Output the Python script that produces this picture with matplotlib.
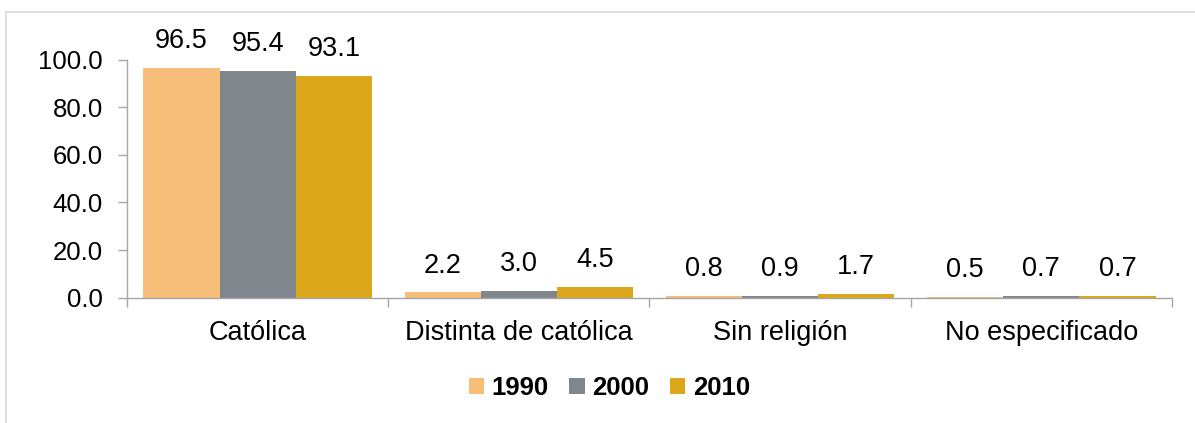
import numpy as np
import matplotlib
matplotlib.use("Agg")
import matplotlib.pyplot as plt
from matplotlib.lines import Line2D
from matplotlib.ticker import FixedLocator

plt.rcParams['font.family'] = ['Liberation Sans', 'DejaVu Sans']

categories = ["Católica", "Distinta de católica", "Sin religión", "No especificado"]
years = ["1990", "2000", "2010"]
v1990 = [96.5, 2.2, 0.8, 0.5]
v2000 = [95.4, 3.0, 0.9, 0.7]
v2010 = [93.1, 4.5, 1.7, 0.7]
colors = ["#F6BE78", "#7F868C", "#DAA81A"]

fig = plt.figure(figsize=(11.95, 4.23), dpi=100)
ax = fig.add_axes([0.1063, 0.2962, 0.8744, 0.5628])

x = np.arange(len(categories))
w = 0.875 / 3
for i, (vals, lab, c) in enumerate(zip([v1990, v2000, v2010], years, colors)):
    bars = ax.bar(x + (i - 1) * w, vals, width=w, color=c, label=lab)
    for b, v in zip(bars, vals):
        ax.annotate(f"{v:.1f}", (b.get_x() + b.get_width() / 2, v),
                    xytext=(0, 10), textcoords="offset points",
                    ha="center", va="bottom", fontsize=19.5)

ax.set_xlim(-0.5, 3.5)
ax.set_ylim(0, 100)
ax.set_yticks(np.arange(0, 101, 20))
ax.set_yticklabels([f"{t:.1f}" for t in np.arange(0, 101, 20)], fontsize=18.5)
ax.set_xticks(x)
ax.set_xticklabels(categories, fontsize=19.5)
ax.xaxis.set_minor_locator(FixedLocator(np.arange(-0.5, 4, 1)))
ax.tick_params(axis="x", which="major", length=0, pad=16)
ax.tick_params(axis="x", which="minor", length=6.5, color="#a6a6a6", width=1)
ax.tick_params(axis="y", length=6.5, color="#a6a6a6", width=1, pad=11)

for s in ["top", "right"]:
    ax.spines[s].set_visible(False)
for s in ["left", "bottom"]:
    ax.spines[s].set_color("#a6a6a6")
    ax.spines[s].set_linewidth(1)

leg = fig.legend(loc="center", bbox_to_anchor=(0.51, 0.083), ncol=3, frameon=False,
                 prop={"weight": "bold", "size": 18.5}, handlelength=0.6,
                 handleheight=0.6, handletextpad=0.3, columnspacing=0.8)

# chart border (top and left edges visible)
fig.add_artist(Line2D([6 / 1195, 1], [1 - 12 / 423, 1 - 12 / 423], color="#d9d9d9", lw=1.2))
fig.add_artist(Line2D([6 / 1195, 6 / 1195], [0, 1 - 12 / 423], color="#d9d9d9", lw=1.2))

fig.savefig("out.png", dpi=100)
